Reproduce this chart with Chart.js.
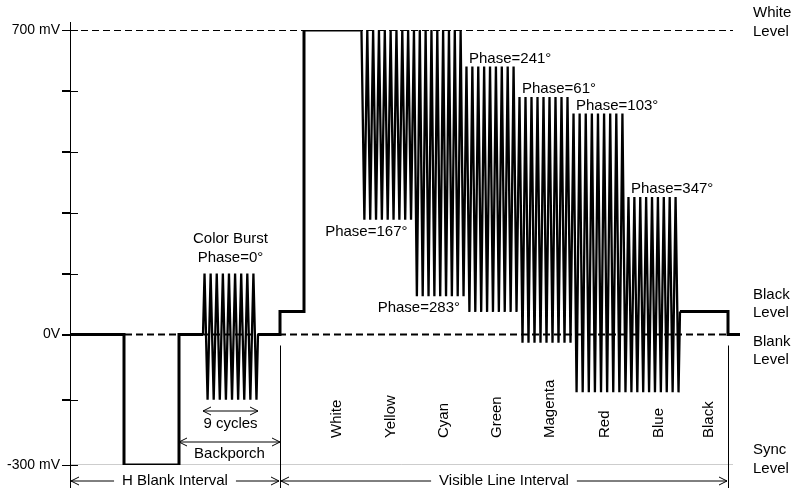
<!DOCTYPE html>
<html>
<head>
<meta charset="utf-8">
<script src="https://cdn.jsdelivr.net/npm/chart.js@4.4.1/dist/chart.umd.min.js"></script>
<style>
  html, body { margin: 0; padding: 0; background: #fff; }
  #wrap { width: 793px; height: 488px; }
</style>
</head>
<body>
<div id="wrap"><canvas id="videoLine" width="793" height="488"></canvas></div>
<script>
// level axis in mV, time axis in arbitrary units along one line
const levelTicks = [700, 560, 420, 280, 140, 0, -150, -300];
const tickNames = { "700": "700 mV", "0": "0V", "-300": "-300 mV" };

const levelNames = ["White", "Black", "Blank", "Sync"];
const levelMv = [700, 53, 0, -300];

// front porch + sync tip + breezeway
const blankT = [0, 5.4, 5.4, 10.9, 10.9, 13.3];
const blankMv = [0, 0, -300, -300, 0, 0];

// color burst
const burstT = [13.3, 18.8];
const burstMv = [140, -150];
const burstCycles = 9;

// back porch, setup, white
const porchT = [18.8, 21.0, 21.0, 23.4, 23.4, 29.0];
const porchMv = [0, 0, 53, 53, 700, 700];

// bar slots
const slotNames = ["White", "Yellow", "Cyan", "Green", "Magenta", "Red", "Blue", "Black"];
const slotEdges = [23.4, 29.0, 34.25, 39.5, 44.8, 50.2, 55.7, 61.0, 65.8];

// chroma bars (Yellow .. Blue)
const barPhase = [167, 283, 241, 61, 103, 347];
const barTopMv = [700, 700, 616, 546, 508, 316];
const barBottomMv = [264, 88, 52, -19, -133, -133];
const barCycles = 9;

// black after the bars, back to blank
const tailT = [61.0, 65.8, 65.8, 67.0];
const tailMv = [53, 53, 0, 0];

const hBlankEnd = 21.0;
const lineEnd = 65.8;
const dashEnd = 66.3;

const FONT = "'Liberation Sans', Arial, sans-serif";

function pts(ts, vs) {
  return ts.map((t, i) => ({ x: t, y: vs[i] }));
}

function zigzag(t0, t1, hi, lo, n) {
  const p = (t1 - t0) / n;
  const out = [];
  for (let k = 0; k < n; k++) {
    out.push({ x: t0 + (k + 0.25) * p, y: hi });
    out.push({ x: t0 + (k + 0.75) * p, y: lo });
  }
  return out;
}

const trace = [
  ...pts(blankT, blankMv),
  { x: 16, y: null },
  ...pts(porchT, porchMv),
  { x: 45, y: null },
  ...pts(tailT, tailMv)
];

const chroma = [
  { x: burstT[0], y: 0 },
  ...zigzag(burstT[0], burstT[1], burstMv[0], burstMv[1], burstCycles),
  { x: burstT[1], y: 0 },
  { x: 24, y: null },
  { x: slotEdges[1], y: 700 }
];
barPhase.forEach((ph, i) => {
  chroma.push(...zigzag(slotEdges[i + 1], slotEdges[i + 2], barTopMv[i], barBottomMv[i], barCycles));
});
chroma.push({ x: slotEdges[7], y: 53 });

function arrowHead(ctx, x, y, dir) {
  ctx.beginPath();
  ctx.moveTo(x - dir * 8, y - 4);
  ctx.lineTo(x, y);
  ctx.lineTo(x - dir * 8, y + 4);
  ctx.stroke();
}

function line(ctx, x0, y0, x1, y1) {
  ctx.beginPath();
  ctx.moveTo(x0, y0);
  ctx.lineTo(x1, y1);
  ctx.stroke();
}

function spanArrow(ctx, x0, x1, y, text) {
  if (text) {
    const w = ctx.measureText(text).width;
    const cx = (x0 + x1) / 2;
    line(ctx, x0, y, cx - w / 2 - 8, y);
    line(ctx, cx + w / 2 + 8, y, x1, y);
    ctx.textAlign = "center";
    ctx.fillText(text, cx, y);
  } else {
    line(ctx, x0, y, x1, y);
  }
  arrowHead(ctx, x0, y, -1);
  arrowHead(ctx, x1, y, 1);
}

const annotations = {
  id: "annotations",
  afterDraw(chart) {
    const ctx = chart.ctx;
    const xs = chart.scales.x;
    const ys = chart.scales.y;
    const px = t => xs.getPixelForValue(t);
    const py = v => ys.getPixelForValue(v);
    const area = chart.chartArea;

    ctx.save();
    ctx.strokeStyle = "#000";
    ctx.fillStyle = "#000";
    ctx.lineWidth = 1;

    // axis line, full height, with crossing tick marks
    line(ctx, area.left + 0.5, 22, area.left + 0.5, 488);
    levelTicks.forEach(v => {
      const y = Math.round(py(v)) + 0.5;
      line(ctx, area.left - 8, y, area.left + 8, y);
    });

    ctx.font = "15px " + FONT;
    ctx.textBaseline = "middle";

    // level names on the right
    const levelOffsets = [[-17, 2], [-17, 1], [7, 25], [-15, 4]];
    ctx.textAlign = "left";
    levelNames.forEach((n, i) => {
      const y = py(levelMv[i]);
      ctx.fillText(n, area.right + 13, y + levelOffsets[i][0]);
      ctx.fillText("Level", area.right + 13, y + levelOffsets[i][1]);
    });

    // burst notes
    const bx = px((burstT[0] + burstT[1]) / 2);
    const btop = py(burstMv[0]);
    ctx.textAlign = "center";
    ctx.fillText("Color Burst", bx, btop - 35);
    ctx.fillText("Phase=0°", bx, btop - 16);
    spanArrow(ctx, px(burstT[0]), px(burstT[1]), 411);
    ctx.textAlign = "center";
    ctx.fillText("9 cycles", bx, 424);

    spanArrow(ctx, px(blankT[4]), px(hBlankEnd), 442);
    ctx.textAlign = "center";
    ctx.fillText("Backporch", (px(blankT[4]) + px(hBlankEnd)) / 2, 454);

    // interval markers
    const bz = Math.round(py(0)) + 10.5;
    line(ctx, Math.round(px(hBlankEnd)) + 0.5, bz, Math.round(px(hBlankEnd)) + 0.5, 488);
    line(ctx, Math.round(px(lineEnd)) + 0.5, bz, Math.round(px(lineEnd)) + 0.5, 488);
    spanArrow(ctx, px(0) + 1, px(hBlankEnd) - 1, 481, "H Blank Interval");
    spanArrow(ctx, px(hBlankEnd) + 1, px(lineEnd) - 1, 481, "Visible Line Interval");

    // phase of each bar
    barPhase.forEach((ph, i) => {
      const label = "Phase=" + ph + "°";
      if (barTopMv[i] >= 700) {
        ctx.textAlign = "right";
        ctx.fillText(label, px(slotEdges[i + 2]) - 5, py(barBottomMv[i]) + 12);
      } else {
        ctx.textAlign = "left";
        ctx.fillText(label, px(slotEdges[i + 1]) + 4, py(barTopMv[i]) - 8);
      }
    });

    // bar names, rotated
    ctx.textAlign = "left";
    slotNames.forEach((n, i) => {
      const cx = (px(slotEdges[i]) + px(slotEdges[i + 1])) / 2 + 5;
      ctx.save();
      ctx.translate(cx, 438);
      ctx.rotate(-Math.PI / 2);
      ctx.fillText(n, 0, 0);
      ctx.restore();
    });

    ctx.restore();
  }
};

new Chart(document.getElementById("videoLine"), {
  type: "line",
  data: {
    datasets: [
      {
        label: "Signal",
        data: trace,
        borderColor: "#000",
        borderWidth: 3,
        borderJoinStyle: "miter",
        pointRadius: 0,
        spanGaps: false
      },
      {
        label: "Chroma",
        data: chroma,
        borderColor: "#000",
        borderWidth: 2.3,
        pointRadius: 0,
        spanGaps: false
      },
      {
        label: "White level",
        data: [{ x: 0, y: 700 }, { x: dashEnd, y: 700 }],
        borderColor: "#000",
        borderWidth: 2,
        borderDash: [7, 4],
        pointRadius: 0
      },
      {
        label: "Blank level",
        data: [{ x: 0, y: 0 }, { x: dashEnd, y: 0 }],
        borderColor: "#000",
        borderWidth: 2,
        borderDash: [7, 4],
        pointRadius: 0
      },
      {
        label: "Sync level",
        data: [{ x: 0, y: -300 }, { x: dashEnd, y: -300 }],
        borderColor: "#9a9a9a",
        borderWidth: 1,
        pointRadius: 0
      }
    ]
  },
  options: {
    responsive: false,
    animation: false,
    layout: { padding: { top: 30, right: 53, bottom: 23, left: 0 } },
    plugins: {
      legend: { display: false },
      tooltip: { enabled: false }
    },
    scales: {
      x: {
        type: "linear",
        min: 0,
        max: 67,
        display: false
      },
      y: {
        type: "linear",
        min: -300,
        max: 700,
        afterFit: s => { s.width = 70; },
        afterBuildTicks: s => { s.ticks = levelTicks.map(v => ({ value: v })); },
        ticks: {
          autoSkip: false,
          padding: 2,
          color: "#000",
          font: { size: 14, family: FONT },
          callback: v => tickNames[v] || ""
        },
        grid: { drawOnChartArea: false, tickLength: 8, color: "#000" },
        border: { display: false }
      }
    }
  },
  plugins: [annotations]
});
</script>
</body>
</html>
